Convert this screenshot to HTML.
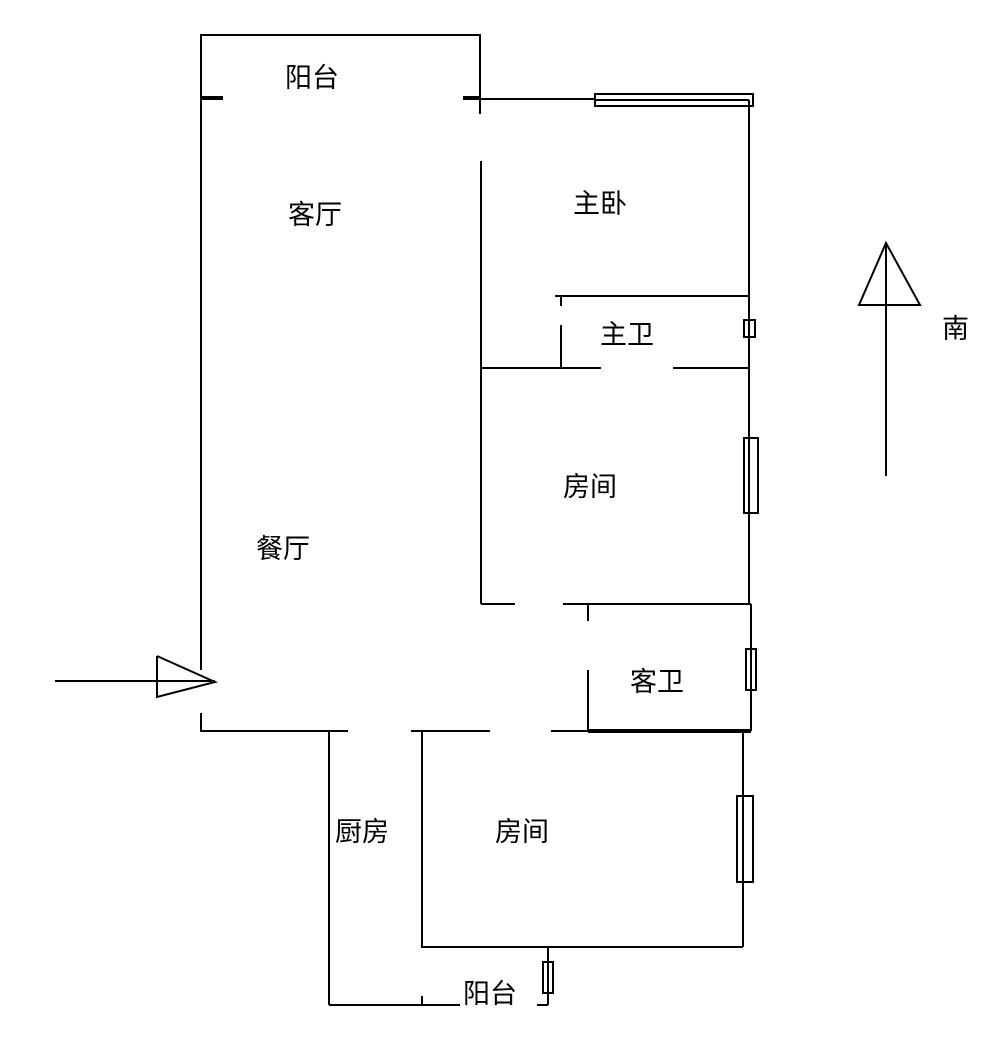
<!DOCTYPE html>
<html><head><meta charset="utf-8"><style>
html,body{margin:0;padding:0;background:#fff;}
svg{display:block;}
text{font-family:"Liberation Sans","Noto Sans CJK SC",sans-serif;font-size:27px;fill:#000;}
</style></head><body>
<svg width="1000" height="1040" viewBox="0 0 1000 1040" xmlns="http://www.w3.org/2000/svg">
<g stroke="#000" stroke-width="2" fill="none">
<polyline points="201,670 201,35 480,35 480,114"/>
<polyline points="201,713 201,731 348,731"/>
<line x1="481" y1="161" x2="481" y2="604"/>
<line x1="202" y1="98" x2="223" y2="98" stroke-width="4"/>
<line x1="463" y1="98" x2="480" y2="98" stroke-width="4"/>
<line x1="480" y1="99" x2="595" y2="99"/>
<rect x="595" y="94" width="158" height="12"/>
<line x1="595" y1="100" x2="749" y2="100"/>
<line x1="749" y1="100" x2="749" y2="604"/>
<line x1="555" y1="296" x2="749" y2="296"/>
<line x1="561" y1="296" x2="561" y2="306"/>
<line x1="561" y1="325" x2="561" y2="368"/>
<line x1="481" y1="368" x2="601" y2="368"/>
<line x1="673" y1="368" x2="749" y2="368"/>
<rect x="744" y="320" width="11" height="17"/>
<rect x="744" y="438" width="14" height="75"/>
<line x1="481" y1="604" x2="515" y2="604"/>
<line x1="563" y1="604" x2="751" y2="604"/>
<line x1="751" y1="604" x2="751" y2="731"/>
<line x1="588" y1="604" x2="588" y2="621"/>
<line x1="588" y1="670" x2="588" y2="731"/>
<rect x="746" y="649" width="10" height="41"/>
<line x1="411" y1="731" x2="490" y2="731"/>
<line x1="551" y1="731" x2="751" y2="731"/>
<line x1="588" y1="731" x2="751" y2="731" stroke-width="4"/>
<line x1="329" y1="731" x2="329" y2="1005"/>
<line x1="422" y1="731" x2="422" y2="948"/>
<line x1="422" y1="996" x2="422" y2="1005"/>
<line x1="422" y1="947" x2="743" y2="947"/>
<line x1="743" y1="731" x2="743" y2="947"/>
<rect x="737" y="796" width="16" height="86"/>
<line x1="548" y1="947" x2="548" y2="1005"/>
<rect x="543" y="962" width="10" height="31"/>
<line x1="329" y1="1005" x2="460" y2="1005"/>
<line x1="537" y1="1005" x2="548" y2="1005"/>
<line x1="55" y1="681" x2="215" y2="681"/>
<polyline points="157,656 215,682 157,697 157,656"/>
<line x1="886" y1="243" x2="886" y2="476"/>
<polygon points="886,243 920,305 859,305"/>
</g>
<text x="285" y="87">阳台</text>
<text x="288" y="224">客厅</text>
<text x="573" y="213">主卧</text>
<text x="600" y="344">主卫</text>
<text x="563" y="496">房间</text>
<text x="256" y="558">餐厅</text>
<text x="630" y="691">客卫</text>
<text x="335" y="841">厨房</text>
<text x="495" y="841">房间</text>
<text x="463" y="1003">阳台</text>
<text x="942" y="338">南</text>
</svg>
</body></html>
